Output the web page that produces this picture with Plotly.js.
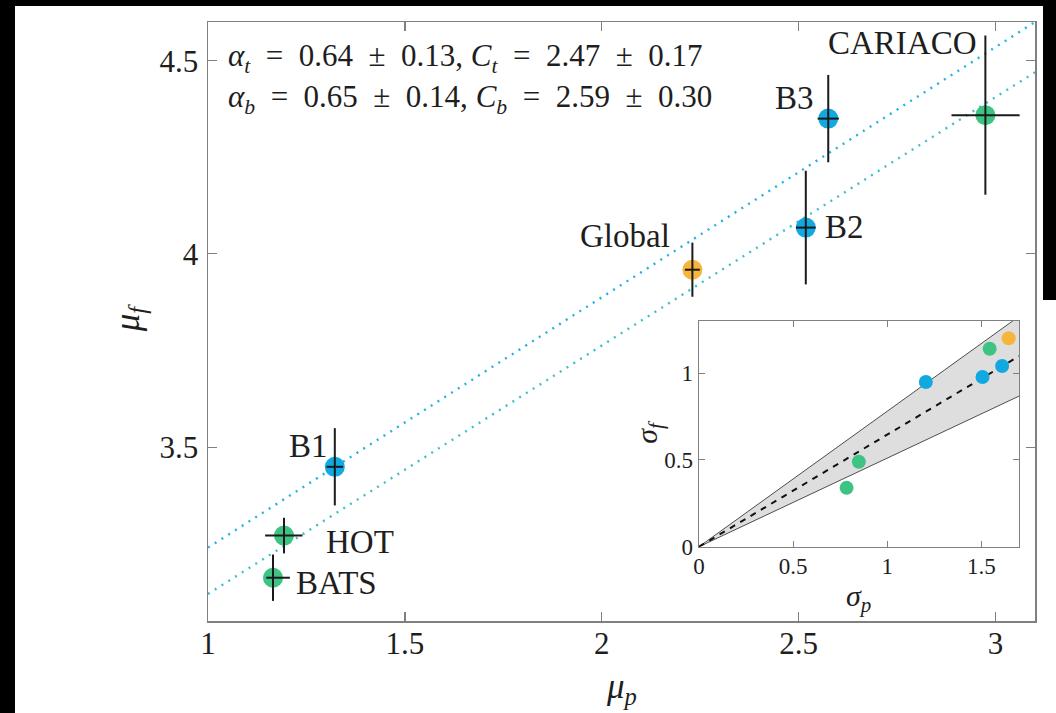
<!DOCTYPE html>
<html>
<head>
<meta charset="utf-8">
<script src="https://cdn.plot.ly/plotly-3.0.1.min.js"></script>
<style>
  html, body { margin: 0; padding: 0; background: #fff; }
  #wrap { position: relative; width: 1056px; height: 713px; overflow: hidden; }
  #chart { width: 1056px; height: 713px; }
  .blk { position: absolute; background: #000; }
</style>
</head>
<body>
<div id="wrap">
  <div id="chart"></div>
  <div class="blk" style="left:0;top:0;width:15px;height:713px;"></div>
  <div class="blk" style="left:0;top:0;width:1056px;height:6px;"></div>
  <div class="blk" style="left:1043px;top:0;width:13px;height:300px;"></div>
</div>
<script>
// ---- main panel data ----
const sites      = ['B1', 'HOT', 'BATS', 'Global', 'B2', 'B3', 'CARIACO'];
const siteColors = ['#12a9e0', '#3fc383', '#3fc383', '#f6b53c', '#12a9e0', '#12a9e0', '#3fc383'];
const muP        = [1.322, 1.193, 1.165, 2.230, 2.518, 2.575, 2.974];
const muF        = [3.449, 3.271, 3.162, 3.959, 4.068, 4.350, 4.359];
const errPplus   = [0.021, 0.047, 0.043, 0.019, 0.025, 0.027, 0.087];
const errPminus  = [0.021, 0.048, 0.017, 0.019, 0.025, 0.027, 0.086];
const errF       = [0.100, 0.046, 0.060, 0.070, 0.147, 0.113, 0.206];

// fitted lines (top / bottom)
const fitMuP    = [1.0, 3.1];
const fitTop    = [3.240, 4.600];
const fitBottom = [3.120, 4.470];

// ---- inset data ----
const insetColors = ['#12a9e0', '#12a9e0', '#12a9e0', '#3fc383', '#f6b53c', '#3fc383', '#3fc383'];
const sigP        = [1.205, 1.506, 1.610, 1.544, 1.645, 0.849, 0.784];
const sigF        = [0.948, 0.977, 1.040, 1.140, 1.200, 0.489, 0.339];
const bandX       = [0, 1.7];
const bandUpper   = [0, 1.326];
const bandMid     = [0, 1.097];
const bandLower   = [0, 0.867];

const mainTicksX = [1, 1.5, 2, 2.5, 3];
const mainTicksY = [3.5, 4, 4.5];
const insetTicksX = [0, 0.5, 1, 1.5];
const insetTicksY = [0, 0.5, 1];

const S = '&nbsp;';
const fitText = [
  '<i>α</i><sub><i>t</i></sub> ' + S + '= ' + S + '0.64 ' + S + '± ' + S + '0.13, <i>C</i><sub><i>t</i></sub> ' + S + '= ' + S + '2.47 ' + S + '± ' + S + '0.17',
  '<i>α</i><sub><i>b</i></sub> ' + S + '= ' + S + '0.65 ' + S + '± ' + S + '0.14, <i>C</i><sub><i>b</i></sub> ' + S + '= ' + S + '2.59 ' + S + '± ' + S + '0.30'
];

// label offsets in pixels (placement only)
const labelPos = {
  'B1':      {xa: 'right', dx: -5,  dy: 21},
  'HOT':     {xa: 'left',  dx: 40,  dy: -6},
  'BATS':    {xa: 'left',  dx: 21,  dy: -5},
  'Global':  {xa: 'right', dx: -20, dy: 34},
  'B2':      {xa: 'left',  dx: 17,  dy: 1},
  'B3':      {xa: 'right', dx: -12, dy: 21},
  'CARIACO': {xa: 'right', dx: -6,  dy: 72}
};

const SERIF = 'Liberation Serif, Times New Roman, serif';
const TXT = '#1e1e1e';
const FRAME = '#808080';

const traces = [
  { x: fitMuP, y: fitTop, mode: 'lines', xaxis: 'x', yaxis: 'y',
    line: {color: '#22b2e2', width: 2.4, dash: '2px,6px'}, hoverinfo: 'skip', showlegend: false },
  { x: fitMuP, y: fitBottom, mode: 'lines', xaxis: 'x', yaxis: 'y',
    line: {color: '#3cc2c6', width: 2.4, dash: '2px,6px'}, hoverinfo: 'skip', showlegend: false },
  { x: muP, y: muF, mode: 'markers', xaxis: 'x', yaxis: 'y', text: sites,
    marker: {size: 20, color: siteColors, line: {width: 0}}, showlegend: false },
  { x: muP, y: muF, mode: 'markers', xaxis: 'x', yaxis: 'y',
    marker: {size: 1, color: 'rgba(0,0,0,0)'},
    error_x: {type: 'data', symmetric: false, array: errPplus, arrayminus: errPminus, color: '#1a1a1a', thickness: 2, width: 0},
    error_y: {type: 'data', array: errF, color: '#1a1a1a', thickness: 2, width: 0},
    hoverinfo: 'skip', showlegend: false },
  // inset band
  { x: bandX, y: bandLower, mode: 'lines', xaxis: 'x2', yaxis: 'y2',
    line: {color: '#4d4d4d', width: 1}, hoverinfo: 'skip', showlegend: false },
  { x: bandX, y: bandUpper, mode: 'lines', xaxis: 'x2', yaxis: 'y2', fill: 'tonexty',
    fillcolor: '#dedede', line: {color: '#4d4d4d', width: 1}, hoverinfo: 'skip', showlegend: false },
  { x: bandX, y: bandMid, mode: 'lines', xaxis: 'x2', yaxis: 'y2',
    line: {color: '#111', width: 2, dash: '6px,6px'}, hoverinfo: 'skip', showlegend: false },
  { x: sigP, y: sigF, mode: 'markers', xaxis: 'x2', yaxis: 'y2',
    marker: {size: 14, color: insetColors}, showlegend: false }
];

const annotations = [];
sites.forEach((s, i) => {
  const p = labelPos[s];
  annotations.push({ x: muP[i], y: muF[i], xref: 'x', yref: 'y', text: s, showarrow: false,
    xanchor: p.xa, yanchor: 'middle', xshift: p.dx, yshift: p.dy,
    font: {family: SERIF, size: 33, color: TXT} });
});
annotations.push({ xref: 'paper', yref: 'paper', x: 0.0218, y: 0.940, xanchor: 'left', yanchor: 'middle',
  text: fitText[0], showarrow: false, font: {family: SERIF, size: 31, color: TXT} });
annotations.push({ xref: 'paper', yref: 'paper', x: 0.0218, y: 0.872, xanchor: 'left', yanchor: 'middle',
  text: fitText[1], showarrow: false, font: {family: SERIF, size: 31, color: TXT} });
annotations.push({ xref: 'paper', yref: 'paper', x: 0.5, y: -0.112, xanchor: 'center', yanchor: 'middle',
  text: '<i>μ</i><sub><i>p</i></sub>', showarrow: false, font: {family: SERIF, size: 35, color: TXT} });
annotations.push({ xref: 'paper', yref: 'paper', x: -0.095, y: 0.506, xanchor: 'center', yanchor: 'middle',
  textangle: -90, text: '<i>μ</i><sub><i>f</i></sub>', showarrow: false, font: {family: SERIF, size: 35, color: TXT} });
annotations.push({ xref: 'paper', yref: 'paper', x: 0.786, y: 0.038, xanchor: 'center', yanchor: 'middle',
  text: '<i>σ</i><sub><i>p</i></sub>', showarrow: false, font: {family: SERIF, size: 30, color: TXT} });
annotations.push({ xref: 'paper', yref: 'paper', x: 0.533, y: 0.3155, xanchor: 'center', yanchor: 'middle',
  textangle: -90, text: '<i>σ</i><sub><i>f</i></sub>', showarrow: false, font: {family: SERIF, size: 30, color: TXT} });

const axMain = {
  showgrid: false, zeroline: false, showline: true, mirror: 'ticks',
  linecolor: FRAME, linewidth: 1.5, ticks: 'inside', ticklen: 9, tickwidth: 1.2, tickcolor: FRAME,
  tickfont: {family: SERIF, size: 31, color: TXT}
};
const axInset = {
  showgrid: false, zeroline: false, showline: true, mirror: 'ticks',
  linecolor: FRAME, linewidth: 1.3, ticks: 'inside', ticklen: 6, tickwidth: 1, tickcolor: FRAME,
  tickfont: {family: SERIF, size: 23, color: TXT}
};

const layout = {
  width: 1056, height: 713,
  margin: {l: 208, r: 21, t: 22, b: 92},
  paper_bgcolor: '#fff', plot_bgcolor: '#fff',
  showlegend: false,
  xaxis: Object.assign({}, axMain, {domain: [0, 1], range: [1, 3.1], tickvals: mainTicksX, anchor: 'y', ticklabelstandoff: -6}),
  yaxis: Object.assign({}, axMain, {domain: [0, 1], range: [3.05, 4.6], tickvals: mainTicksY, anchor: 'x', ticklabelstandoff: 2}),
  xaxis2: Object.assign({}, axInset, {domain: [0.5937, 0.9807], range: [0, 1.7], tickvals: insetTicksX, anchor: 'y2', ticklabelstandoff: -2}),
  yaxis2: Object.assign({}, axInset, {domain: [0.124, 0.501], range: [0, 1.3], tickvals: insetTicksY, anchor: 'x2', ticklabelstandoff: 0}),
  annotations: annotations
};

Plotly.newPlot('chart', traces, layout, {staticPlot: true, displayModeBar: false});
</script>
</body>
</html>
